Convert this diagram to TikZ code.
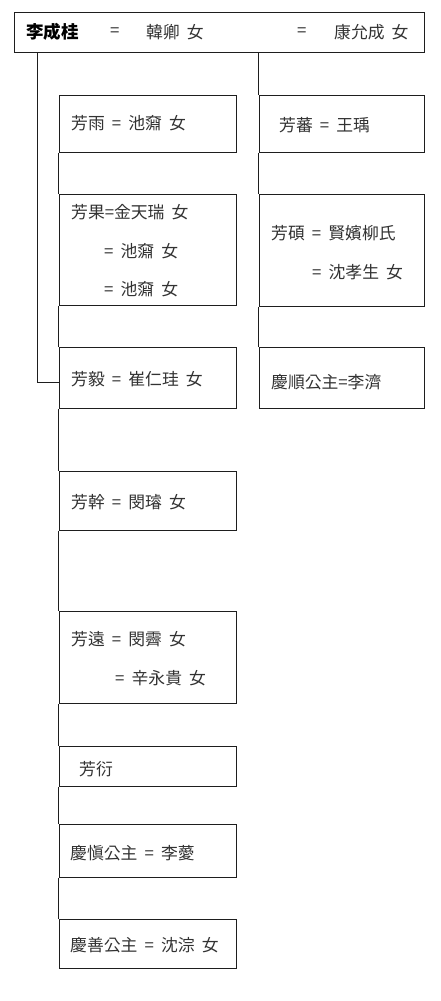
\documentclass[tikz,border=0pt]{standalone}
\usepackage{fontspec}
\newfontfamily\cjk[WordSpace=1.9]{Noto Sans CJK KR}
\definecolor{txt}{RGB}{50,50,50}
\definecolor{ln}{RGB}{30,30,30}
\begin{document}
\begin{tikzpicture}[x=1pt,y=-1pt,
  box/.style={draw=ln, line width=0.9pt, inner sep=0pt, anchor=north west},
  lbl/.style={anchor=west, inner sep=0pt, text=txt, font=\cjk\fontsize{16.8}{19}\selectfont},
  conn/.style={draw=ln, line width=0.9pt}]
\useasboundingbox (0,0) rectangle (440,1001);
% top box
\node[box, minimum width=410pt, minimum height=40.5pt] (top) at (14,11.5) {};
% left column
\node[box, minimum width=177pt, minimum height=57pt]  (b1) at (58.5,95) {};
\node[box, minimum width=177pt, minimum height=111pt] (b2) at (58.5,194) {};
\node[box, minimum width=177pt, minimum height=61pt]  (b3) at (58.5,347) {};
\node[box, minimum width=177pt, minimum height=59pt]  (b4) at (58.5,471) {};
\node[box, minimum width=177pt, minimum height=92pt]  (b5) at (58.5,611) {};
\node[box, minimum width=177pt, minimum height=40pt]  (b6) at (58.5,746) {};
\node[box, minimum width=177pt, minimum height=53pt]  (b7) at (58.5,824) {};
\node[box, minimum width=177pt, minimum height=49pt]  (b8) at (58.5,919) {};
% right column
\node[box, minimum width=165.5pt, minimum height=57pt]  (r1) at (258.5,95) {};
\node[box, minimum width=165.5pt, minimum height=112pt] (r2) at (258.5,194) {};
\node[box, minimum width=165.5pt, minimum height=61pt]  (r3) at (258.5,347) {};
% connectors
\coordinate (lt) at (37,52);
\coordinate (j3) at (58.5,382);
\draw[conn] (lt) |- (j3);
\draw[conn] (b1.south west) -- (b2.north west);
\draw[conn] (b2.south west) -- (b3.north west);
\draw[conn] (b3.south west) -- (b4.north west);
\draw[conn] (b4.south west) -- (b5.north west);
\draw[conn] (b5.south west) -- (b6.north west);
\draw[conn] (b6.south west) -- (b7.north west);
\draw[conn] (b7.south west) -- (b8.north west);
\draw[conn] (r1.north west |- top.south) -- (r1.north west);
\draw[conn] (r1.south west) -- (r2.north west);
\draw[conn] (r2.south west) -- (r3.north west);
% top texts
\node[lbl, font=\cjk\bfseries\fontsize{17.5}{19}\selectfont, text=black] (t1) at (26,32) {李成桂};
\node[lbl] (t2) at (110,32) {=};
\node[lbl] (t3) at (146,32) {韓卿 女};
\node[lbl] (t4) at (297,32) {=};
\node[lbl] (t5) at (334,32) {康允成 女};
% left texts
\node[lbl] (x1)  at (71,123) {芳雨 = 池奫 女};
\node[lbl] (x2a) at (71,212) {芳果=金天瑞 女};
\node[lbl] (x2b) at (104,251) {= 池奫 女};
\node[lbl] (x2c) at (104,289) {= 池奫 女};
\node[lbl] (x3)  at (71,379) {芳毅 = 崔仁珪 女};
\node[lbl] (x4)  at (71,502) {芳幹 = 閔璿 女};
\node[lbl] (x5a) at (71,639) {芳遠 = 閔霽 女};
\node[lbl] (x5b) at (115,678) {= 辛永貴 女};
\node[lbl] (x6)  at (79,769) {芳衍};
\node[lbl] (x7)  at (70,853) {慶愼公主 = 李薆};
\node[lbl] (x8)  at (70,945) {慶善公主 = 沈淙 女};
% right texts
\node[lbl] (y1)  at (279,125) {芳蕃 = 王瑀};
\node[lbl] (y2a) at (271,233) {芳碩 = 賢嬪柳氏};
\node[lbl] (y2b) at (312,272) {= 沈孝生 女};
\node[lbl] (y3)  at (271,382) {慶順公主=李濟};
\end{tikzpicture}
\end{document}
